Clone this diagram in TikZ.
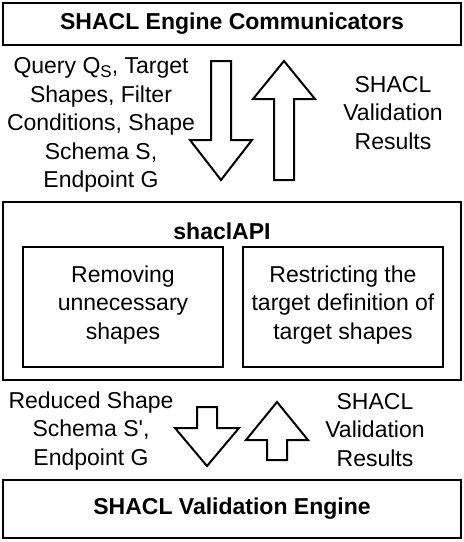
\documentclass[tikz,border=0pt]{standalone}
\usepackage{fontspec}
\setmainfont{Liberation Sans}
\newcommand{\diagfont}{\fontsize{23}{28.5}\selectfont}
\newcommand{\subS}{\raisebox{-4pt}{\fontsize{17}{20}\selectfont S}}

\begin{document}
\begin{tikzpicture}[x=1pt, y=-1pt,
        box/.style={draw, line width=2pt, inner sep=0pt, font=\diagfont, align=center},
        txt/.style={inner sep=0pt, font=\diagfont, align=center},
        blockarrow/.style={draw, line width=2pt, line join=miter, fill=white}]

        \useasboundingbox (0,0) rectangle (464,542);

        % Top box
        \node[box, minimum width=458pt, minimum height=42pt, font=\diagfont\bfseries] (comm) at (232,24) {SHACL Engine Communicators};

        % Request and results between the communicators and the API
        \node[txt] (request) at (101,125) {Query Q\subS, Target\\Shapes, Filter\\Conditions, Shape\\Schema S,\\Endpoint G};
        \node[txt] (results) at (393,113) {SHACL\\Validation\\Results};

        % Big arrows
        \draw[blockarrow] (211,61) -- (231,61) -- (231,140) -- (252,140) -- (221,180) -- (190,140) -- (211,140) -- cycle;
        \draw[blockarrow] (274,180) -- (294,180) -- (294,99) -- (315,99) -- (284,61) -- (253,99) -- (274,99) -- cycle;

        % The API with its two steps
        \node[box, minimum width=458pt, minimum height=178pt] (api) at (232,291) {};
        \node[txt, font=\diagfont\bfseries] (apiname) at (222,231) {shaclAPI};
        \node[box, minimum width=200pt, minimum height=120pt] (remove) at (123,307) {};
        \node[txt] (removetxt) at (remove.center) [yshift=2pt] {Removing\\unnecessary\\shapes};
        \node[box, minimum width=200pt, minimum height=120pt] (restrict) at (343,307) {};
        \node[txt] (restricttxt) at (restrict.center) [yshift=2pt] {Restricting the\\target definition of\\target shapes};

        % Reduced schema and results between the API and the engine
        \node[txt] (reduced) at (91,431) {Reduced Shape\\Schema S\textquotesingle,\\Endpoint G};
        \node[txt] (results2) at (375,430) {SHACL\\Validation\\Results};

        % Small arrows
        \draw[blockarrow] (197,407) -- (217,407) -- (217,428) -- (239,428) -- (207,466) -- (175,428) -- (197,428) -- cycle;
        \draw[blockarrow] (267,460) -- (287,460) -- (287,440) -- (308,440) -- (277,402) -- (246,440) -- (267,440) -- cycle;

        % Bottom box
        \node[box, minimum width=458pt, minimum height=58pt, font=\diagfont\bfseries] (engine) at (232,509) {SHACL Validation Engine};
    \end{tikzpicture}
\end{document}
